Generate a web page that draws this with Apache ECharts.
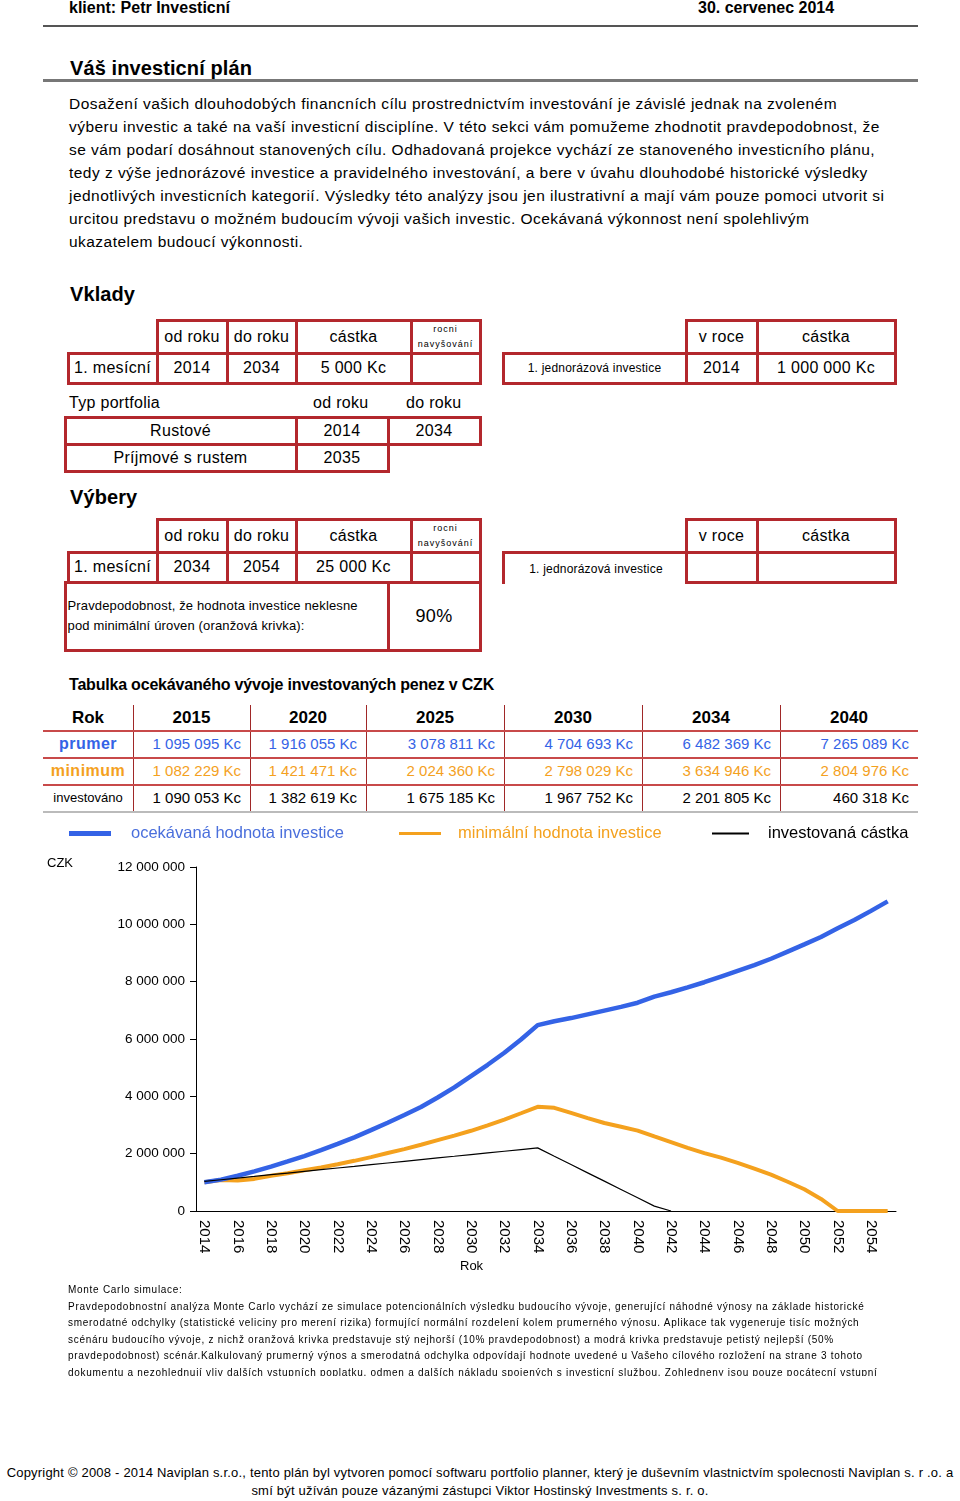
<!DOCTYPE html>
<html lang="cs">
<head>
<meta charset="utf-8">
<title>Váš investicní plán</title>
<script src="https://cdn.jsdelivr.net/npm/echarts@6/dist/echarts.min.js"></script>
<style>
  html, body { margin: 0; padding: 0; background: #fff; }
  #page { position: relative; width: 960px; height: 1501px; overflow: hidden;
          font-family: "Liberation Sans", Arial, sans-serif; color: #000; }
  .t { position: absolute; white-space: nowrap; }
  .head { font-weight: bold; font-size: 16px; line-height: 16px; letter-spacing: 0; }
  .h2 { font-weight: bold; font-size: 20px; line-height: 20px; letter-spacing: 0.1px; }
  .rule { position: absolute; left: 43px; width: 875px; }
  .para { position: absolute; left: 69px; top: 92px; font-size: 15.5px; line-height: 23px; white-space: nowrap; letter-spacing: 0.46px; }
  .cell { position: absolute; box-sizing: border-box; border: 3px solid #b3282d; display: flex;
          align-items: center; justify-content: center; font-size: 16px; white-space: nowrap; letter-spacing: 0.3px; }
  .tiny { font-size: 9px; line-height: 15px; letter-spacing: 1px; text-align: center; }
  .small { font-size: 12px; letter-spacing: 0.2px; }
  .lbl { font-size: 16px; line-height: 16px; letter-spacing: 0.3px; }
  .tc { position: absolute; box-sizing: border-box; display: flex; align-items: center; white-space: nowrap; font-size: 15px; }
  .vl { position: absolute; width: 1px; background: #a02828; }
  .hl { position: absolute; left: 43px; width: 875px; }
  #mc { position: absolute; left: 68px; top: 1282px; width: 860px; height: 94px; overflow: hidden;
        font-size: 10px; line-height: 16.5px; letter-spacing: 0.72px; white-space: nowrap; }
  #foot { position: absolute; left: 0; top: 1464px; width: 960px; text-align: center;
          font-size: 13px; line-height: 18px; white-space: nowrap; letter-spacing: 0.2px; }
  #chart { position: absolute; left: 0; top: 815px; width: 960px; height: 470px; }
</style>
</head>
<body>
<div id="page">
  <div class="t head" style="left:69px;top:0px;">klient: Petr Investicní</div>
  <div class="t head" style="left:698px;top:0px;">30. cervenec 2014</div>
  <div class="rule" style="top:25px;height:2px;background:#555;"></div>

  <div class="t h2" style="left:70px;top:58px;">Váš investicní plán</div>
  <div class="rule" style="top:79px;height:3px;background:#777;"></div>

  <div class="para">Dosažení vašich dlouhodobých financních cílu prostrednictvím investování je závislé jednak na zvoleném<br>výberu investic a také na vaší investicní disciplíne. V této sekci vám pomužeme zhodnotit pravdepodobnost, že<br>se vám podarí dosáhnout stanovených cílu. Odhadovaná projekce vychází ze stanoveného investicního plánu,<br>tedy z výše jednorázové investice a pravidelného investování, a bere v úvahu dlouhodobé historické výsledky<br>jednotlivých investicních kategorií. Výsledky této analýzy jsou jen ilustrativní a mají vám pouze pomoci utvorit si<br>urcitou predstavu o možném budoucím vývoji vašich investic. Ocekávaná výkonnost není spolehlivým<br>ukazatelem budoucí výkonnosti.</div>

  <div class="t h2" style="left:70px;top:284px;">Vklady</div>
  <div class="t lbl" style="left:69px;top:395px;">Typ portfolia</div>
  <div class="t lbl" style="left:313px;top:395px;">od roku</div>
  <div class="t lbl" style="left:406px;top:395px;">do roku</div>
  <div class="t h2" style="left:70px;top:487px;">Výbery</div>

  <div class="t head" style="left:69px;top:677px;letter-spacing:-0.2px;">Tabulka ocekávaného vývoje investovaných penez v CZK</div>

  <div id="chart"></div>

  <div id="mc">Monte Carlo simulace:<br>Pravdepodobnostní analýza Monte Carlo vychází ze simulace potencionálních výsledku budoucího vývoje, generující náhodné výnosy na základe historické<br>smerodatné odchylky (statistické veliciny pro merení rizika) formující normální rozdelení kolem prumerného výnosu. Aplikace tak vygeneruje tisíc možných<br>scénáru budoucího vývoje, z nichž oranžová krivka predstavuje stý nejhorší (10% pravdepodobnost) a modrá krivka predstavuje petistý nejlepší (50%<br>pravdepodobnost) scénár.Kalkulovaný prumerný výnos a smerodatná odchylka odpovídají hodnote uvedené u Vašeho cílového rozložení na strane 3 tohoto<br>dokumentu a nezohlednují vliv dalších vstupních poplatku, odmen a dalších nákladu spojených s investicní službou. Zohledneny jsou pouze pocátecní vstupní</div>

  <div id="foot">Copyright © 2008 - 2014 Naviplan s.r.o., tento plán byl vytvoren pomocí softwaru portfolio planner, který je duševním vlastnictvím spolecnosti Naviplan s. r .o. a<br>smí být užíván pouze vázanými zástupci Viktor Hostinský Investments s. r. o.</div>
</div>

<script>
// --- plan tables ---
const vkladyHead = ['od roku', 'do roku', 'cástka'];
const vkladyRow = ['1. mesícní', '2014', '2034', '5 000 Kc', ''];
const vkladyOnce = ['1. jednorázová investice', '2014', '1 000 000 Kc'];
const portfolia = [['Rustové', '2014', '2034'], ['Príjmové s rustem', '2035']];
const vyberyRow = ['1. mesícní', '2034', '2054', '25 000 Kc', ''];
const vyberyOnce = ['1. jednorázová investice', '', ''];
const probText = 'Pravdepodobnost, že hodnota investice neklesne<br>pod minimální úroven (oranžová krivka):';
const probValue = '90%';

// --- projection table ---
const tableYears = ['2015', '2020', '2025', '2030', '2034', '2040'];
const tablePrumer = [1095095, 1916055, 3078811, 4704693, 6482369, 7265089];
const tableMinimum = [1082229, 1421471, 2024360, 2798029, 3634946, 2804976];
const tableInvest = [1090053, 1382619, 1675185, 1967752, 2201805, 460318];

// --- chart ---
const years = ['2014', '2015', '2016', '2017', '2018', '2019', '2020', '2021', '2022', '2023',
  '2024', '2025', '2026', '2027', '2028', '2029', '2030', '2031', '2032', '2033',
  '2034', '2035', '2036', '2037', '2038', '2039', '2040', '2041', '2042', '2043',
  '2044', '2045', '2046', '2047', '2048', '2049', '2050', '2051', '2052', '2053',
  '2054', '2055'];
const expected = [1000000, 1095095, 1230000, 1380000, 1550000, 1730000, 1916055, 2120000, 2340000, 2570000,
  2820000, 3078811, 3350000, 3630000, 3960000, 4310000, 4704693, 5100000, 5520000, 5980000,
  6482369, 6620000, 6730000, 6860000, 6990000, 7120000, 7265089, 7480000, 7630000, 7800000,
  7980000, 8180000, 8380000, 8580000, 8800000, 9050000, 9300000, 9560000, 9860000, 10150000,
  10470000, 10800000];
const minimum = [1000000, 1082229, 1060000, 1120000, 1230000, 1320000, 1421471, 1520000, 1630000, 1750000,
  1880000, 2024360, 2160000, 2310000, 2470000, 2630000, 2798029, 2990000, 3190000, 3410000,
  3634946, 3600000, 3420000, 3240000, 3070000, 2940000, 2804976, 2600000, 2400000, 2200000,
  2020000, 1860000, 1680000, 1480000, 1270000, 1020000, 760000, 420000, 0, 0,
  0, 0];
const invested = [1031000, 1090053, 1149000, 1207000, 1266000, 1324000, 1382619, 1441000, 1500000, 1558000,
  1617000, 1675185, 1734000, 1792000, 1851000, 1909000, 1967752, 2026000, 2085000, 2143000,
  2201805, 1911000, 1621000, 1331000, 1041000, 750000, 460318, 170000, 0, null,
  null, null, null, null, null, null, null, null, null, null,
  null, null];
const yTicks = { min: 0, max: 12000000, step: 2000000 };

const BLUE = '#3463e6', ORANGE = '#f4a11e';
const page = document.getElementById('page');

function fmt(n) {
  return String(n).replace(/\B(?=(\d{3})+(?!\d))/g, ' ');
}

function cell(x1, x2, y1, y2, html, cls, extra) {
  const d = document.createElement('div');
  d.className = 'cell' + (cls ? ' ' + cls : '');
  d.style.cssText = 'left:' + (x1 - 1.5) + 'px;top:' + (y1 - 1.5) + 'px;width:' + (x2 - x1 + 3) +
    'px;height:' + (y2 - y1 + 3) + 'px;' + (extra || '');
  d.innerHTML = html;
  page.appendChild(d);
}

// Vklady / Výbery blocks
const leftCols = [157, 227, 296, 411, 480];
function planBlock(top, row, once, onceOpen) {
  const mid = top + 33, bot = top + 63;
  vkladyHead.forEach((h, i) => cell(leftCols[i], leftCols[i + 1], top, mid, h));
  cell(leftCols[3], leftCols[4], top, mid, 'rocni<br>navyšování', 'tiny');
  cell(68, leftCols[0], mid, bot, row[0]);
  for (let i = 1; i < 5; i++) cell(leftCols[i - 1], leftCols[i], mid, bot, row[i]);
  cell(686, 757, top, mid, 'v roce');
  cell(757, 895, top, mid, 'cástka');
  cell(503, 686, mid, bot, once[0], 'small', onceOpen ? 'border-right:none;border-bottom:none;' : '');
  cell(686, 757, mid, bot, once[1]);
  cell(757, 895, mid, bot, once[2]);
}
planBlock(320, vkladyRow, vkladyOnce, false);
planBlock(519, vyberyRow, vyberyOnce, true);

// portfolio
cell(65, 296, 417, 444, portfolia[0][0]);
cell(296, 388, 417, 444, portfolia[0][1]);
cell(388, 480, 417, 444, portfolia[0][2]);
cell(65, 296, 444, 471, portfolia[1][0]);
cell(296, 388, 444, 471, portfolia[1][1]);

// probability
cell(65, 388, 582, 650, probText, '', 'justify-content:flex-start;padding-left:1px;font-size:13px;line-height:20px;letter-spacing:0.15px;');
cell(388, 480, 582, 650, probValue, '', 'font-size:18px;');

// projection table
const colEdges = [43, 133, 250, 366, 504, 642, 780, 918];
const rowEdges = [705, 730, 757, 784, 811];
function tc(c, r, html, css) {
  const d = document.createElement('div');
  d.className = 'tc';
  d.style.cssText = 'left:' + colEdges[c] + 'px;top:' + rowEdges[r] + 'px;width:' + (colEdges[c + 1] - colEdges[c]) +
    'px;height:' + (rowEdges[r + 1] - rowEdges[r]) + 'px;' + css;
  d.innerHTML = html;
  page.appendChild(d);
}
tc(0, 0, 'Rok', 'justify-content:center;font-weight:bold;font-size:17px;');
tc(0, 1, 'prumer', 'justify-content:center;font-weight:bold;font-size:16px;color:' + BLUE + ';letter-spacing:0.5px;');
tc(0, 2, 'minimum', 'justify-content:center;font-weight:bold;font-size:16px;color:' + ORANGE + ';letter-spacing:0.5px;');
tc(0, 3, 'investováno', 'justify-content:center;font-size:13px;');
tableYears.forEach((y, i) => {
  tc(i + 1, 0, y, 'justify-content:center;font-weight:bold;font-size:17px;');
  tc(i + 1, 1, fmt(tablePrumer[i]) + ' Kc', 'justify-content:flex-end;padding-right:9px;color:' + BLUE + ';');
  tc(i + 1, 2, fmt(tableMinimum[i]) + ' Kc', 'justify-content:flex-end;padding-right:9px;color:' + ORANGE + ';');
  tc(i + 1, 3, fmt(tableInvest[i]) + ' Kc', 'justify-content:flex-end;padding-right:9px;');
});
colEdges.slice(1, -1).forEach(x => {
  const v = document.createElement('div');
  v.className = 'vl';
  v.style.cssText = 'left:' + x + 'px;top:705px;height:106px;';
  page.appendChild(v);
});
[[730, '#c84a4a'], [757, '#c84a4a'], [784, '#c84a4a'], [811, '#bbb']].forEach(([y, c]) => {
  const h = document.createElement('div');
  h.className = 'hl';
  h.style.cssText = 'top:' + y + 'px;height:1.5px;background:' + c + ';';
  page.appendChild(h);
});

// chart
const chart = echarts.init(document.getElementById('chart'));
const legendBase = { top: 5, icon: 'rect', textStyle: { fontSize: 16.5, fontFamily: 'Liberation Sans' } };
chart.setOption({
  animation: false,
  textStyle: { fontFamily: 'Liberation Sans' },
  legend: [
    Object.assign({}, legendBase, { left: 64, itemWidth: 42, itemHeight: 5, data: ['ocekávaná hodnota investice'],
      textStyle: Object.assign({}, legendBase.textStyle, { color: '#4a6fdc', padding: [0, 0, 0, 15] }) }),
    Object.assign({}, legendBase, { left: 394, itemWidth: 42, itemHeight: 3, data: ['minimální hodnota investice'],
      textStyle: Object.assign({}, legendBase.textStyle, { color: ORANGE, padding: [0, 0, 0, 12] }) }),
    Object.assign({}, legendBase, { left: 707, itemWidth: 37, itemHeight: 2, data: ['investovaná cástka'],
      textStyle: Object.assign({}, legendBase.textStyle, { color: '#000', padding: [0, 0, 0, 14] }) })
  ],
  graphic: [
    { type: 'text', left: 47, top: 42, style: { text: 'CZK', fontSize: 13, fill: '#000', fontFamily: 'Liberation Sans' } },
    { type: 'text', left: 460, top: 445, style: { text: 'Rok', fontSize: 13, fill: '#000', fontFamily: 'Liberation Sans' } }
  ],
  grid: { left: 196, right: 64, top: 52, bottom: 74, containLabel: false, outerBoundsMode: 'none' },
  xAxis: {
    type: 'category', data: years, boundaryGap: true,
    axisLine: { lineStyle: { color: '#000', width: 1 } },
    axisTick: { interval: 0, length: 5, lineStyle: { color: '#000' } },
    axisLabel: { interval: 1, rotate: -90, margin: 9, fontSize: 15, color: '#000' },
    splitLine: { show: false }
  },
  yAxis: {
    type: 'value', min: yTicks.min, max: yTicks.max, interval: yTicks.step,
    axisLine: { show: true, lineStyle: { color: '#000', width: 1 } },
    axisTick: { show: true, length: 6, lineStyle: { color: '#000' } },
    axisLabel: { margin: 11, fontSize: 13.5, color: '#000', formatter: v => fmt(v) },
    splitLine: { show: false }
  },
  series: [
    { name: 'minimální hodnota investice', type: 'line', data: minimum, symbol: 'none', z: 2,
      itemStyle: { color: ORANGE }, lineStyle: { color: ORANGE, width: 4 } },
    { name: 'ocekávaná hodnota investice', type: 'line', data: expected, symbol: 'none', z: 3,
      itemStyle: { color: BLUE }, lineStyle: { color: BLUE, width: 4.5 } },
    { name: 'investovaná cástka', type: 'line', data: invested, symbol: 'none', z: 4,
      itemStyle: { color: '#000' }, lineStyle: { color: '#000', width: 1.2 } }
  ]
});
</script>
</body>
</html>
